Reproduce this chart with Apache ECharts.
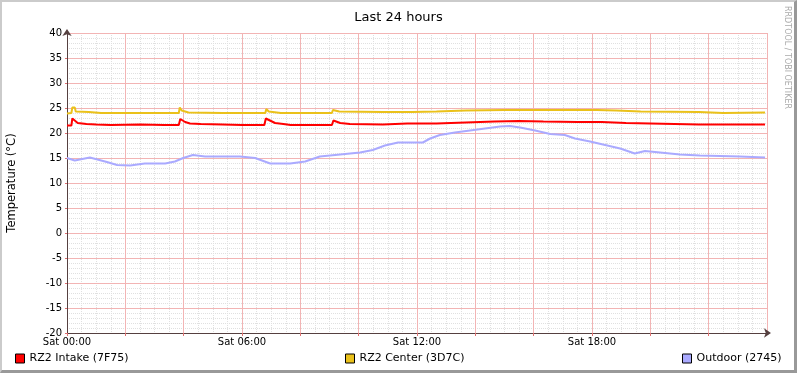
<!DOCTYPE html>
<html>
<head>
<meta charset="utf-8">
<script src="https://cdn.jsdelivr.net/npm/echarts@6/dist/echarts.min.js"></script>
<style>
  html, body { margin: 0; padding: 0; background: #fff; }
  #wrap { position: relative; width: 797px; height: 373px; }
  #chart { width: 797px; height: 373px; }
  #frame {
    position: absolute; left: 0; top: 0; width: 797px; height: 373px;
    box-sizing: border-box; pointer-events: none;
    border-top: 2px solid #cbcbcb; border-left: 2px solid #cbcbcb;
    border-bottom: 3px solid #999; border-right: 3px solid #999;
  }
</style>
</head>
<body>
<div id="wrap">
  <div id="chart"></div>
  <div id="frame"></div>
</div>
<script>
// minutes since Sat 00:00, values in °C
var intakeTimes = [0, 9, 11, 15, 22, 40, 60, 90, 150, 200, 230, 233, 243, 253, 275, 320, 360, 406, 409, 428, 445, 460, 545, 548, 562, 582, 650, 700, 760, 820, 880, 930, 980, 1050, 1100, 1150, 1200, 1300, 1436];
var intakeVals  = [21.5, 21.5, 22.9, 22.5, 22.0, 21.8, 21.7, 21.6, 21.7, 21.6, 21.6, 22.8, 22.2, 21.9, 21.8, 21.7, 21.6, 21.6, 22.9, 22.0, 21.8, 21.6, 21.6, 22.5, 22.0, 21.8, 21.7, 21.9, 21.9, 22.1, 22.3, 22.4, 22.3, 22.2, 22.2, 22.0, 21.9, 21.7, 21.7];

var centerTimes = [0, 9, 11, 16, 18, 45, 70, 150, 230, 232, 236, 250, 320, 408, 410, 415, 440, 545, 547, 560, 650, 710, 760, 820, 900, 1000, 1090, 1130, 1180, 1300, 1350, 1436];
var centerVals  = [23.9, 24.0, 25.1, 25.1, 24.3, 24.2, 24.0, 24.0, 24.0, 25.1, 24.5, 24.1, 24.0, 24.0, 24.8, 24.3, 24.0, 24.0, 24.6, 24.3, 24.2, 24.2, 24.3, 24.5, 24.6, 24.6, 24.6, 24.5, 24.3, 24.2, 24.0, 24.1];

var outdoorTimes = [0, 16, 47, 82, 103, 130, 160, 202, 222, 239, 259, 284, 356, 387, 418, 459, 490, 520, 562, 603, 629, 654, 681, 732, 747, 767, 798, 829, 860, 891, 911, 932, 963, 994, 1024, 1045, 1076, 1107, 1138, 1168, 1189, 1220, 1261, 1302, 1343, 1384, 1436];
var outdoorVals  = [15.0, 14.5, 15.1, 14.2, 13.6, 13.5, 13.9, 13.9, 14.3, 15.0, 15.6, 15.3, 15.3, 15.0, 13.9, 13.9, 14.3, 15.3, 15.7, 16.1, 16.6, 17.5, 18.1, 18.1, 18.9, 19.6, 20.1, 20.5, 20.9, 21.3, 21.4, 21.1, 20.5, 19.8, 19.6, 18.9, 18.3, 17.6, 16.9, 15.9, 16.4, 16.1, 15.7, 15.5, 15.4, 15.3, 15.1];

var seriesNames = ['RZ2 Intake (7F75)', 'RZ2 Center (3D7C)', 'Outdoor (2745)'];
var seriesColors = ['#ff0000', '#eac11a', '#aaaaff'];

function zip(t, v) {
  return t.map(function (x, i) { return [x, v[i]]; });
}

var font = 'DejaVu Sans';
var chart = echarts.init(document.getElementById('chart'), null, { renderer: 'canvas' });

function legendAt(left, name) {
  return {
    left: left,
    top: 353,
    padding: 0,
    icon: 'rect',
    itemWidth: 9,
    itemHeight: 9,
    data: [name],
    selectedMode: false,
    textStyle: { fontFamily: font, fontSize: 11, color: '#000' },
    itemStyle: { borderColor: '#000', borderWidth: 1 }
  };
}

// hidden axis that only draws the light minor grid
function minorAxis(pos, min, max, step) {
  return {
    type: 'value', position: pos, min: min, max: max, interval: step, z: -1,
    axisLine: { show: false, onZero: false }, axisTick: { show: false }, axisLabel: { show: false },
    splitLine: { show: true, lineStyle: { color: '#e0e0e0', type: [1, 1], width: 1 } }
  };
}

var axisArrow = {
  show: true,
  onZero: false,
  symbol: ['none', 'arrow'],
  symbolSize: [7, 7],
  symbolOffset: [0, 4],
  lineStyle: { color: '#554040', width: 1 }
};

var majorSplit = { show: true, lineStyle: { color: '#f2b4b4', type: 'solid', width: 1 } };

var option = {
  backgroundColor: '#fff',
  animation: false,
  title: {
    text: 'Last 24 hours',
    left: 'center',
    top: 6,
    textStyle: { fontFamily: font, fontSize: 13, fontWeight: 'normal', color: '#000' }
  },
  graphic: [{
    type: 'text',
    x: 791,
    y: 6,
    rotation: -Math.PI / 2,
    style: { text: 'RRDTOOL / TOBI OETIKER', fontFamily: font, fontSize: 8, fill: '#aaa' }
  }],
  legend: [
    legendAt(15, seriesNames[0]),
    legendAt(345, seriesNames[1]),
    legendAt(682, seriesNames[2])
  ],
  grid: { left: 67, top: 33, right: 30, bottom: 40, containLabel: false, outerBoundsMode: 'none' },
  xAxis: [
    minorAxis('bottom', 0, 1440, 30),
    {
      type: 'value',
      position: 'bottom',
      min: 0,
      max: 1440,
      interval: 120,
      z: 2,
      axisLine: axisArrow,
      axisTick: { show: true, length: 3, lineStyle: { color: '#e07070' } },
      axisLabel: {
        fontFamily: font, fontSize: 10, color: '#000', margin: 4,
        showMaxLabel: false,
        formatter: function (v) {
          if (v % 360 !== 0 || v >= 1440) return '';
          var h = v / 60;
          return 'Sat ' + (h < 10 ? '0' : '') + h + ':00';
        }
      },
      splitLine: majorSplit
    }
  ],
  yAxis: [
    minorAxis('left', -20, 40, 1),
    {
      type: 'value',
      position: 'left',
      min: -20,
      max: 40,
      interval: 5,
      z: 2,
      name: 'Temperature (°C)',
      nameLocation: 'middle',
      nameGap: 49,
      nameTextStyle: { fontFamily: font, fontSize: 11.5, color: '#000' },
      axisLine: axisArrow,
      axisTick: { show: true, length: 2, lineStyle: { color: '#e07070' } },
      axisLabel: { fontFamily: font, fontSize: 10, color: '#000', margin: 5 },
      splitLine: majorSplit
    }
  ],
  series: [
    {
      name: seriesNames[0], type: 'line', xAxisIndex: 1, yAxisIndex: 1, showSymbol: false, color: seriesColors[0],
      lineStyle: { width: 2 }, data: zip(intakeTimes, intakeVals), z: 3
    },
    {
      name: seriesNames[1], type: 'line', xAxisIndex: 1, yAxisIndex: 1, showSymbol: false, color: seriesColors[1],
      lineStyle: { width: 2 }, data: zip(centerTimes, centerVals), z: 3
    },
    {
      name: seriesNames[2], type: 'line', xAxisIndex: 1, yAxisIndex: 1, showSymbol: false, color: seriesColors[2],
      lineStyle: { width: 2 }, data: zip(outdoorTimes, outdoorVals), z: 3
    }
  ]
};

chart.setOption(option);
</script>
</body>
</html>
